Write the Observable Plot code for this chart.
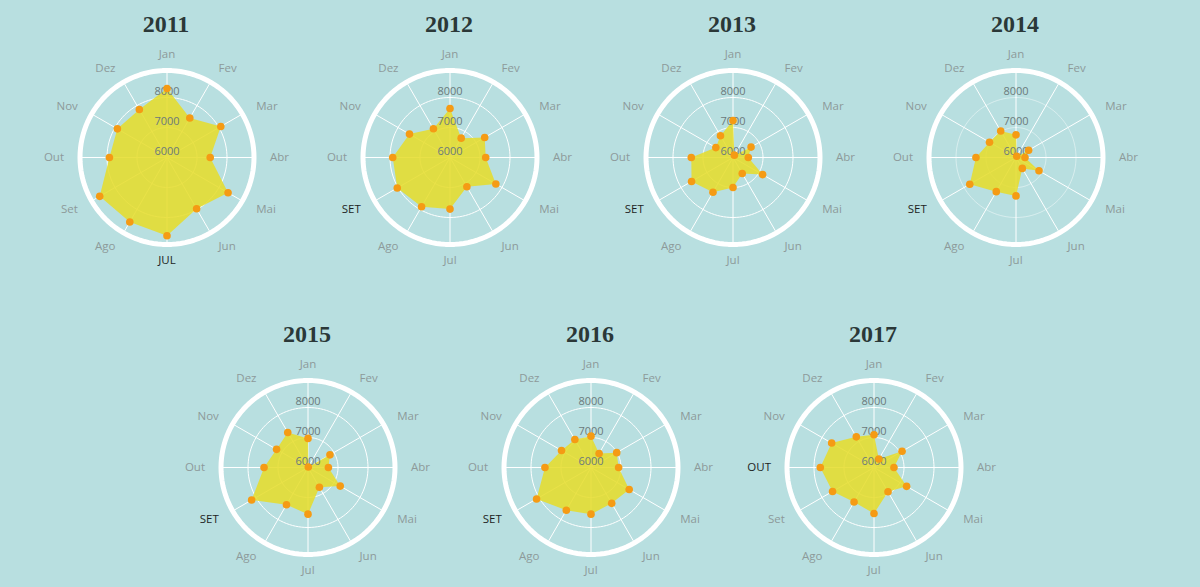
<!DOCTYPE html>
<html>
<head>
<meta charset="utf-8">
<script src="https://cdn.jsdelivr.net/npm/d3@7"></script>
<script src="https://cdn.jsdelivr.net/npm/@observablehq/plot@0.6"></script>
<style>
html, body { margin: 0; padding: 0; background: #b8dfe0; overflow: hidden; }
#wrap { position: relative; width: 1183px; height: 587px; }
.cell { position: absolute; width: 283px; height: 310px; }
.title { position: absolute; top: 12px; left: 0; width: 283px; text-align: center;
  font: bold 24px/25px "Liberation Serif", "DejaVu Serif", serif; color: #2b3838; }
.cell svg { position: absolute; top: 40px; left: 0; }
</style>
</head>
<body>
<div id="wrap"></div>
<script>
// ---- data ----
const months = ["Jan", "Fev", "Mar", "Abr", "Mai", "Jun", "Jul", "Ago", "Set", "Out", "Nov", "Dez"];
const years = ["2011", "2012", "2013", "2014", "2015", "2016", "2017"];
const values2011 = [8300, 7520, 8070, 7440, 8350, 7975, 8610, 8480, 8590, 7920, 7910, 7845];
const values2012 = [7635, 6745, 7335, 7190, 7765, 7125, 7720, 7895, 8030, 7910, 7560, 7105];
const values2013 = [7230, 6090, 6695, 6510, 7140, 6615, 7000, 7335, 7595, 7390, 6660, 6835];
const values2014 = [6755, 6050, 6485, 6300, 6885, 6420, 7280, 7315, 7780, 7335, 7020, 7020];
const values2015 = [6970, 6020, 6845, 6680, 7240, 6760, 7555, 7435, 8170, 7465, 7210, 7350];
const values2016 = [7045, 6540, 6990, 6920, 7470, 7380, 7555, 7645, 8095, 7535, 7135, 7075];
const values2017 = [7090, 6325, 7080, 6665, 7255, 6935, 7535, 7330, 7595, 7790, 7630, 7180];
const tickValues = [6000, 7000, 8000];

const seriesByYear = {
  "2011": values2011, "2012": values2012, "2013": values2013, "2014": values2014,
  "2015": values2015, "2016": values2016, "2017": values2017
};

// ---- scale / layout settings ----
const radialMin = 6000;     // value at the centre
const ringValue = 8900;     // outer white ring
const labelValue = 9433;    // month labels
const pxPerUnit = 0.03;
const W = 283, H = 270, CY = 117;
const cellPos = [
  [24.5, 0], [307.5, 0], [590.5, 0], [873.5, 0],
  [165.5, 310], [448.5, 310], [731.5, 310]
];
const gridOpacity = {"2014": 0.45};

const angleOf = i => i * 2 * Math.PI / 12;
const px = (v, i) => (v - radialMin) * Math.sin(angleOf(i));
const py = (v, i) => (v - radialMin) * Math.cos(angleOf(i));

function anchorFor(i) {
  const deg = i * 30;
  return (deg === 0 || deg === 180) ? "middle" : (deg < 180 ? "start" : "end");
}

const wrap = document.getElementById("wrap");
const labelFont = "'Open Sans', 'Noto Sans', sans-serif";

years.forEach((year, k) => {
  const vals = seriesByYear[year];
  const maxIdx = vals.indexOf(d3.max(vals));
  const pts = vals.map((v, i) => ({month: months[i], value: v, i}));

  const circleData = [];
  tickValues.filter(t => t > radialMin).forEach(t => {
    for (let s = 0; s <= 120; s++) {
      const a = s / 120 * 2 * Math.PI;
      circleData.push({tick: t, x: (t - radialMin) * Math.sin(a), y: (t - radialMin) * Math.cos(a)});
    }
  });
  const ringData = d3.range(0, 121).map(s => {
    const a = s / 120 * 2 * Math.PI;
    return {x: (ringValue - radialMin) * Math.sin(a), y: (ringValue - radialMin) * Math.cos(a)};
  });
  const labelData = months.map((m, i) => ({
    label: i === maxIdx ? m.toUpperCase() : m,
    hi: i === maxIdx,
    i,
    textAnchor: anchorFor(i)
  }));

  const labelMarks = ["middle", "start", "end"].map(ta =>
    Plot.text(labelData.filter(d => d.textAnchor === ta), {
      x: d => px(labelValue, d.i),
      y: d => py(labelValue, d.i),
      text: "label",
      textAnchor: ta,
      lineAnchor: "middle",
      fill: d => d.hi ? "#1d1f1f" : "#8d9a9a",
      fontSize: 11.5,
      fontFamily: labelFont
    })
  );

  const chart = Plot.plot({
    width: W,
    height: H,
    margin: 0,
    style: {background: "none", overflow: "visible"},
    x: {type: "linear", domain: [-W / 2 / pxPerUnit, W / 2 / pxPerUnit], range: [0, W], axis: null},
    y: {type: "linear", domain: [-(H - CY) / pxPerUnit, CY / pxPerUnit], range: [H, 0], axis: null},
    marks: [
      Plot.line(circleData, {x: "x", y: "y", z: "tick", stroke: "white", strokeWidth: 1,
        strokeOpacity: gridOpacity[year] ?? 1}),
      Plot.link(pts, {x1: () => 0, y1: () => 0,
        x2: d => px(ringValue, d.i), y2: d => py(ringValue, d.i),
        stroke: "white", strokeWidth: 1}),
      Plot.line(ringData, {x: "x", y: "y", stroke: "white", strokeWidth: 5, curve: "linear-closed"}),
      Plot.line(pts, {x: d => px(d.value, d.i), y: d => py(d.value, d.i),
        fill: "#e6dd2c", fillOpacity: 0.87, stroke: "none", curve: "linear-closed"}),
      Plot.text(tickValues, {x: () => 0, y: d => d - radialMin, text: d => String(d),
        dy: -6, fill: "#6c7a7b", fontSize: 11, fontFamily: labelFont}),
      Plot.dot(pts, {x: d => px(d.value, d.i), y: d => py(d.value, d.i), r: 3.8, fill: "#f59b14"}),
      ...labelMarks
    ]
  });

  const cell = document.createElement("div");
  cell.className = "cell";
  cell.style.left = cellPos[k][0] + "px";
  cell.style.top = cellPos[k][1] + "px";
  const title = document.createElement("div");
  title.className = "title";
  title.textContent = year;
  cell.appendChild(title);
  cell.appendChild(chart);
  wrap.appendChild(cell);
});
</script>
</body>
</html>
